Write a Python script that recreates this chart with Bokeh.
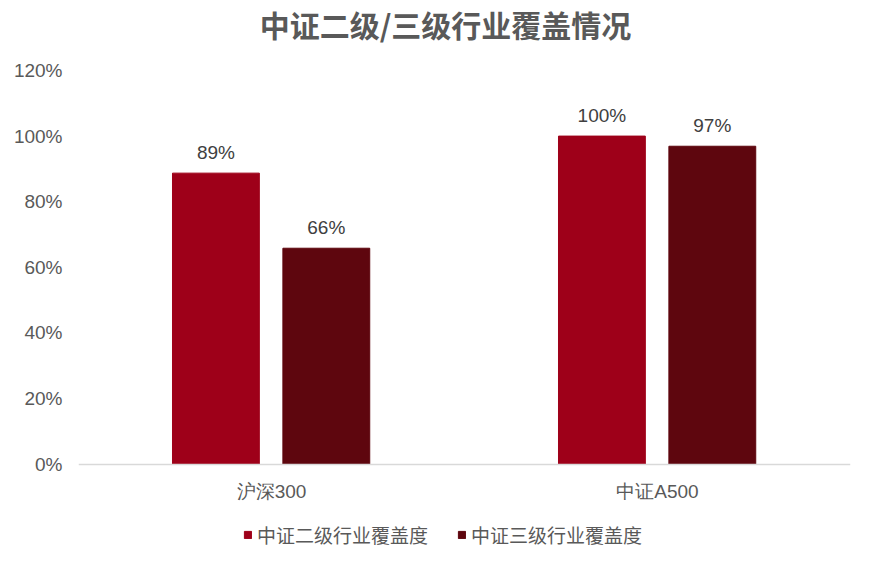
from bokeh.plotting import figure
from bokeh.models import (ColumnDataSource, FactorRange, Range1d, LabelSet, Label,
                          NumeralTickFormatter, Legend, LegendItem)
from bokeh.core.properties import value
from bokeh.transform import dodge
from bokeh.embed import file_html
from bokeh.resources import INLINE

# data
indexes = ["沪深300", "中证A500"]
level2_cover = [0.887, 1.0]
level3_cover = [0.658, 0.969]
series_names = ["中证二级行业覆盖度", "中证三级行业覆盖度"]
colors = ["#9E0019", "#5E060E"]
title_text = "中证二级/三级行业覆盖情况"

FONT = "Liberation Sans"
CJK = "Noto Sans CJK SC"

src = ColumnDataSource(dict(
    idx=indexes,
    l2=level2_cover,
    l3=level3_cover,
    l2_txt=[f"{v:.0%}" for v in level2_cover],
    l3_txt=[f"{v:.0%}" for v in level3_cover],
))

# frame fills the figure top/bottom so title and legend can sit inside it
PX = 393.5 / 1.2   # pixels per 100%
p = figure(x_range=FactorRange(*indexes, range_padding=0),
           y_range=Range1d(-87.5 / PX, 1.2 + 70 / PX),
           width=857, height=551,
           output_backend="svg", toolbar_location=None,
           min_border_left=78, min_border_right=7,
           min_border_top=0, min_border_bottom=0)
p.outline_line_color = None
p.background_fill_color = "white"
p.border_fill_color = "white"
p.grid.visible = False

r1 = p.vbar(x=dodge("idx", -0.144, range=p.x_range), top="l2", width=0.225,
            source=src, color=colors[0])
r2 = p.vbar(x=dodge("idx", 0.142, range=p.x_range), top="l3", width=0.225,
            source=src, color=colors[1])

for off, col in [(-0.144, "l2"), (0.142, "l3")]:
    p.add_layout(LabelSet(x=dodge("idx", off, range=p.x_range), y=col,
                          text=col + "_txt", source=src, y_offset=10,
                          text_align="center", text_baseline="bottom",
                          text_font=value(FONT), text_font_size=value("19px"),
                          text_color="#404040"))

p.add_layout(Label(x=367, y=527.5, x_units="screen", y_units="screen",
                   text=title_text, text_align="center", text_baseline="middle",
                   text_font=CJK, text_font_size="30px", text_font_style="bold",
                   text_color="#595959"))

p.yaxis.formatter = NumeralTickFormatter(format="0%")
p.yaxis.ticker = [0, 0.2, 0.4, 0.6, 0.8, 1.0, 1.2]
p.yaxis.axis_line_color = None
p.yaxis.major_tick_line_color = None
p.yaxis.major_tick_out = 0
p.yaxis.minor_tick_line_color = None
p.yaxis.major_label_standoff = 16
p.yaxis.major_label_text_font = FONT
p.yaxis.major_label_text_font_size = "19px"
p.yaxis.major_label_text_color = "#595959"

p.xaxis.fixed_location = 0
p.xaxis.axis_line_color = "#D9D9D9"
p.xaxis.axis_line_width = 1.5
p.xaxis.major_tick_line_color = None
p.xaxis.major_tick_out = 0
p.xaxis.major_label_standoff = 17
p.xaxis.major_label_text_font = FONT
p.xaxis.major_label_text_font_size = "19px"
p.xaxis.major_label_text_color = "#595959"

legend = Legend(items=[LegendItem(label=series_names[0], renderers=[r1]),
                       LegendItem(label=series_names[1], renderers=[r2])],
                orientation="horizontal", location=(165, 3),
                glyph_width=9, glyph_height=9, label_standoff=5, spacing=29,
                label_text_font=CJK, label_text_font_size="19px",
                label_text_color="#595959", border_line_color=None,
                background_fill_alpha=0, margin=0, padding=0)
p.add_layout(legend, "center")

open("out.html", "w").write(file_html(p, INLINE))
